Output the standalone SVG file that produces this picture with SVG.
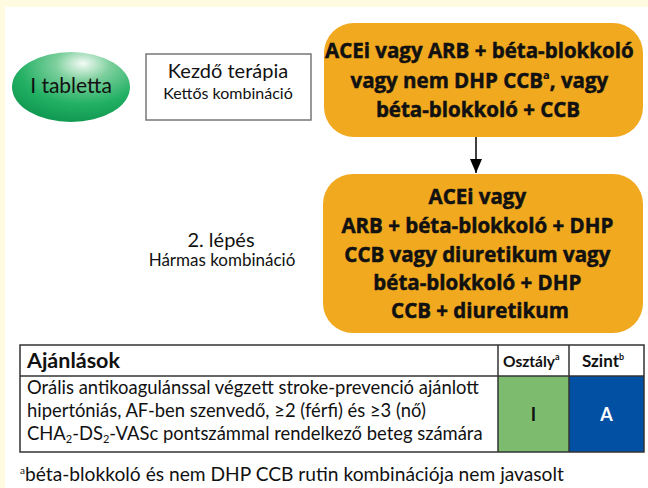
<svg xmlns="http://www.w3.org/2000/svg" width="648" height="488" viewBox="0 0 648 488">
<defs>
<radialGradient id="pill" cx="0.6" cy="0.22" r="0.78" fx="0.6" fy="0.16">
<stop offset="0" stop-color="#f4fbf6"/>
<stop offset="0.3" stop-color="#7ccf9c"/>
<stop offset="0.7" stop-color="#22b064"/>
<stop offset="1" stop-color="#119a52"/>
</radialGradient>
<marker id="arr" markerWidth="14" markerHeight="12" refX="14" refY="6" orient="auto" markerUnits="userSpaceOnUse" viewBox="0 0 14 12">
<path d="M0,0 L14,6 L0,12 Z" fill="#000"/>
</marker>
<style>
.t{font-family:Lato,"Liberation Sans",sans-serif;fill:#111}
.b{font-family:Lato,"Liberation Sans",sans-serif;font-weight:bold;fill:#111}
.bb{font-family:"Open Sans","Liberation Sans",sans-serif;font-weight:bold;fill:#111;stroke:#111;stroke-width:0.5}
.box{fill:#F1A91F}
.cell{fill:none;stroke:#333;stroke-width:1.5}
</style>
</defs>
<rect x="0" y="0" width="648" height="488" fill="#fff"/>
<rect x="0" y="0" width="648" height="7" fill="#FFFBE1"/>
<rect x="0" y="0" width="5" height="488" fill="#FFFBE1"/>

<g id="pill-node">
<ellipse cx="71" cy="87" rx="59" ry="35" fill="url(#pill)"/>
<text class="t" x="71" y="93" font-size="21" text-anchor="middle">I tabletta</text>
</g>

<g id="kezdo">
<rect x="146" y="54" width="165" height="66" fill="#fff" stroke="#777" stroke-width="1.5"/>
<text class="t" x="228" y="78" font-size="20" text-anchor="middle">Kezdő terápia</text>
<text class="t" x="228" y="99" font-size="16" text-anchor="middle">Kettős kombináció</text>
</g>

<g id="box1">
<rect class="box" x="324" y="23" width="319" height="114" rx="30"/>
<text class="bb" font-size="20.5" text-anchor="middle">
<tspan x="482" y="58">ACEi vagy ARB + béta-blokkoló</tspan>
<tspan x="482" y="88">vagy nem DHP CCB<tspan font-size="11" dy="-9" stroke-width="0.2">a</tspan><tspan dy="9">, vagy</tspan></tspan>
<tspan x="478" y="117">béta-blokkoló + CCB</tspan>
</text>
</g>

<g id="lepes">
<text class="t" x="221" y="247" font-size="20" text-anchor="middle">2. lépés</text>
<text class="t" x="222" y="266" font-size="17" text-anchor="middle">Hármas kombináció</text>
</g>

<g id="box2">
<rect class="box" x="323" y="174" width="320" height="159" rx="30"/>
<text class="bb" font-size="20.5" text-anchor="middle">
<tspan x="480" y="204">ACEi vagy</tspan>
<tspan x="480" y="233">ARB + béta-blokkoló + DHP</tspan>
<tspan x="480" y="262">CCB vagy diuretikum vagy</tspan>
<tspan x="480" y="290">béta-blokkoló + DHP</tspan>
<tspan x="480" y="318">CCB + diuretikum</tspan>
</text>
</g>

<g id="connectors">
<line x1="476" y1="137" x2="476" y2="173" stroke="#000" stroke-width="1.5" marker-end="url(#arr)"/>
</g>

<g id="table">
<rect x="498" y="376" width="71" height="76" fill="#7DBC6E"/>
<rect x="569" y="376" width="75" height="76" fill="#0250A3"/>
<rect class="cell" x="20" y="345" width="624" height="107"/>
<line class="cell" x1="20" y1="376" x2="644" y2="376"/>
<line class="cell" x1="498" y1="345" x2="498" y2="452"/>
<line class="cell" x1="569" y1="345" x2="569" y2="452"/>
<text class="b" x="27" y="368" font-size="21.5">Ajánlások</text>
<text class="b" x="503" y="367" font-size="15.5">Osztály<tspan font-size="9" dy="-7">a</tspan></text>
<text class="b" x="582" y="367" font-size="17">Szint<tspan font-size="9" dy="-7">b</tspan></text>
<text class="t" font-size="18.4">
<tspan x="27" y="394">Orális antikoagulánssal végzett stroke-prevenció ajánlott</tspan>
<tspan x="27" y="417">hipertóniás, AF-ben szenvedő, ≥2 (férfi) és ≥3 (nő)</tspan>
<tspan x="27" y="440">CHA<tspan font-size="11" dy="3">2</tspan><tspan dy="-3">-DS</tspan><tspan font-size="11" dy="3">2</tspan><tspan dy="-3">-VASc pontszámmal rendelkező beteg számára</tspan></tspan>
</text>
<text class="b" x="533.5" y="421" font-size="18" text-anchor="middle" fill="#222">I</text>
<text class="b" x="606.5" y="421" font-size="18" text-anchor="middle" style="fill:#fff">A</text>
</g>

<text class="t" x="20" y="481" font-size="19.2"><tspan font-size="10" dy="-7">a</tspan><tspan dy="7">béta-blokkoló és nem DHP CCB rutin kombinációja nem javasolt</tspan></text>
</svg>
